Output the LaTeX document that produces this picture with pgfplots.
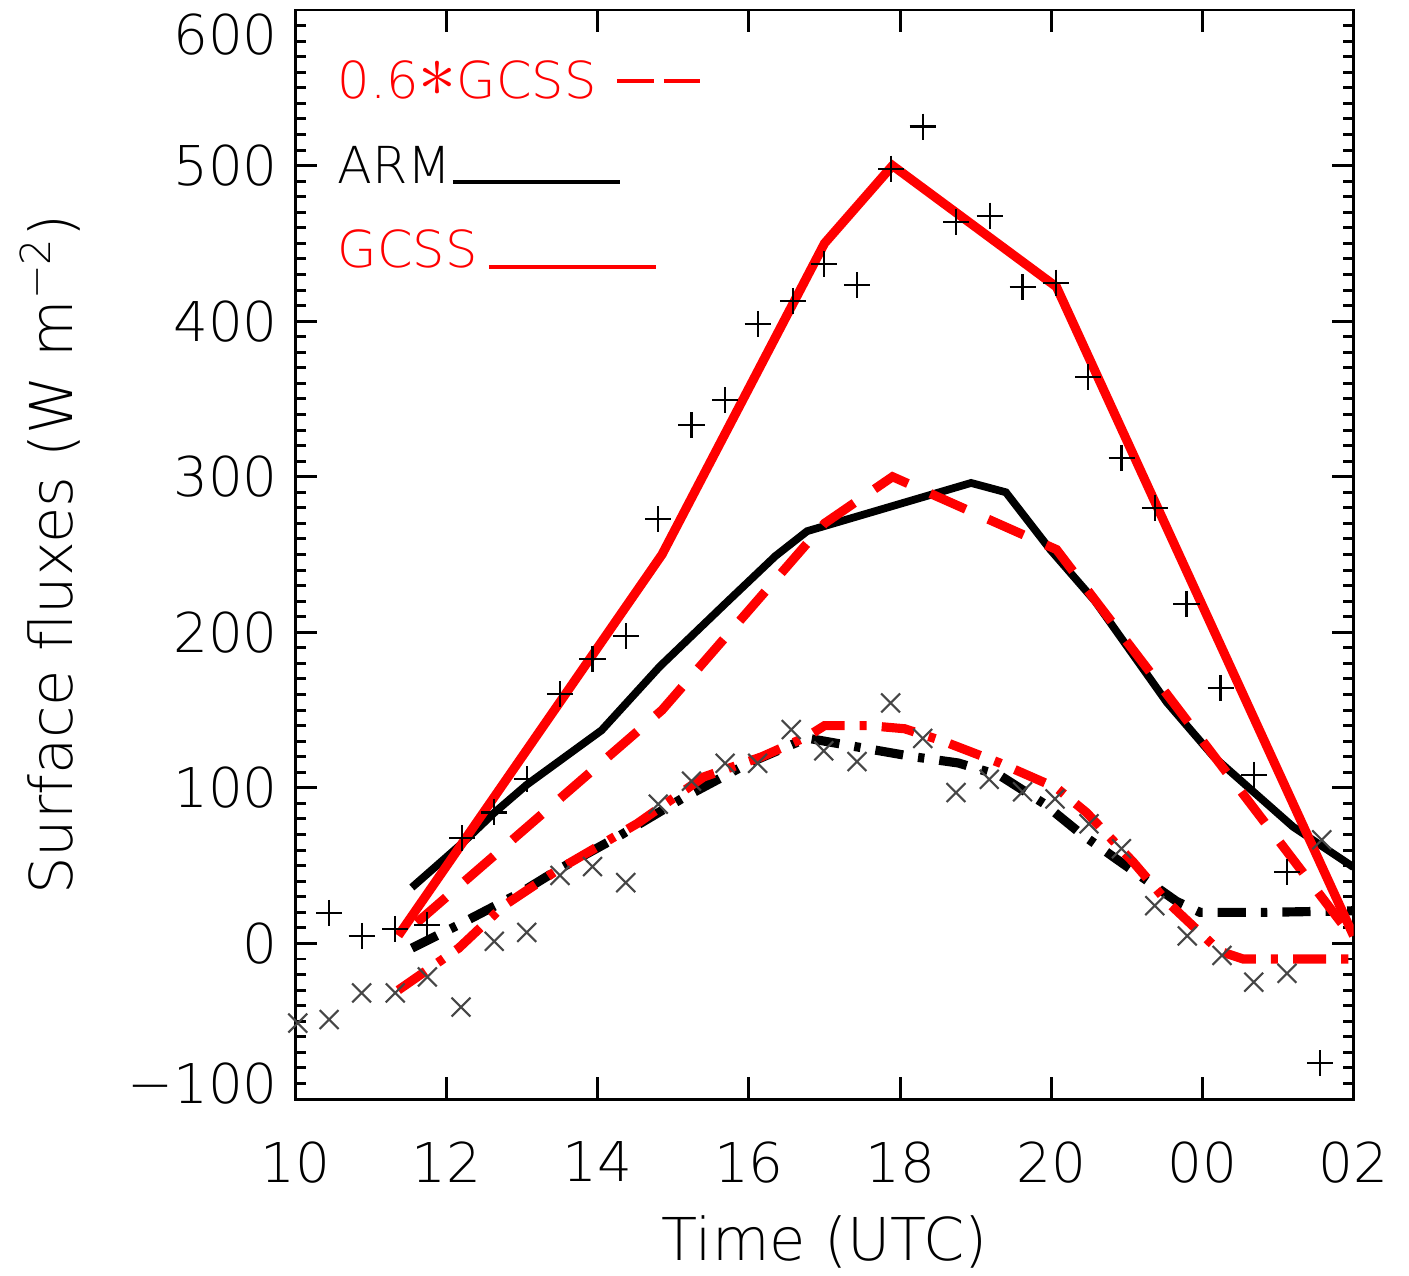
\documentclass[border=0pt]{standalone}
\usepackage{pgfplots}
\pgfplotsset{compat=1.18}
\usepackage{graphicx}
\usepackage{fontspec}
\setmainfont{DejaVu Sans}[UprightFont=* ExtraLight]
\definecolor{xgray}{RGB}{70,70,70}
\begin{document}
\begin{tikzpicture}
\begin{axis}[
  name=ax,
  scale only axis, width=10.58cm, height=10.89cm,
  xmin=10, xmax=24, ymin=-100, ymax=600,
  xtick={10,12,...,24}, xticklabels={10,12,14,16,18,20,00,02},
  ytick={-100,0,...,600},
  yticklabels={\raisebox{4.5pt}[\height][\depth]{−100},0,100,200,300,400,500,\raisebox{-7pt}[\height][\depth]{600}},
  minor y tick num=9,
  tick align=inside, major tick length=6.2pt, minor tick length=3.1pt,
  axis line style={line width=0.85pt},
  every tick/.style={black, line width=0.85pt},
  tick label style={font=\fontsize{15.6}{18}\selectfont},
  xticklabel shift=8.5pt, yticklabel shift=1.5pt,
  xlabel={Time (UTC)}, ylabel={Surface fluxes (W m\textsuperscript{−2})},
  label style={font=\fontsize{16.8}{20}\selectfont},
  xlabel style={at={(axis description cs:0.5,-0.148)}, anchor=base},
  ylabel style={at={(axis description cs:-0.211,0.5)}, anchor=base},
  clip=true,
]
% ARM lines
\addplot[black, line width=2.2pt] coordinates {(11.54,36) (12.22,65) (12.63,84) (13.06,102) (14.05,137) (14.82,178) (15.7,219) (16.35,249) (16.77,265) (18.94,296) (19.4,290) (19.99,253) (20.58,220) (21.53,155) (22.15,120) (23.2,75) (24,49)};
\addplot[black, line width=2.6pt, dash pattern=on 8pt off 4.3pt on 1.8pt off 4.3pt] coordinates {(11.54,-3) (12.16,12) (12.99,33) (13.46,47) (14.28,69) (15.11,93) (16.0,116) (16.77,132) (17.47,126) (18.18,120) (18.77,116) (19.32,108) (19.9,90) (20.38,71) (20.87,54) (21.66,27) (21.97,20) (22.85,20) (24,21)};
% GCSS lines
\addplot[red, line width=2.6pt] coordinates {(11.36,5) (14.85,250) (17.0,450) (17.9,500) (20.07,422) (24,5)};
\addplot[red, line width=2.6pt, dash pattern=on 11pt off 7pt, dash phase=11pt] coordinates {(11.36,3) (14.85,150) (17.0,270) (17.9,300) (20.07,253.2) (24,3)};
\addplot[red, line width=2.6pt, dash pattern=on 9.4pt off 4.3pt on 2pt off 4.3pt] coordinates {(11.36,-30) (12.16,-3) (12.75,24) (13.46,47) (14.52,77) (15.4,107) (16.17,120) (16.77,133) (17.0,140) (17.59,140) (18.06,138) (18.57,130) (19.32,116) (20.07,100) (20.47,84) (21.09,52) (21.53,27) (22.23,-5) (22.54,-10) (24,-10)};
% observations
\addplot[only marks, mark=+, mark size=3.7pt, mark options={black, line width=0.6pt}] coordinates {(10.445,19.7) (10.875,4.8) (11.32,9.4) (11.745,11.7) (12.205,67.7) (12.63,84.2) (13.06,105.5) (13.5,160.4) (13.93,182.6) (14.37,197.4) (14.80,272.8) (15.24,333.1) (15.685,349.1) (16.115,398.3) (16.58,413.1) (16.99,436.5) (17.43,423) (17.88,498) (18.30,525.1) (18.745,464) (19.185,467.8) (19.62,421.7) (20.06,424.7) (20.49,363.9) (20.93,312.1) (21.37,280.1) (21.79,218.2) (22.24,164.3) (22.68,108.4) (23.12,46) (23.56,-77)};
\addplot[only marks, mark=x, mark size=3.8pt, mark options={xgray, line width=0.6pt}] coordinates {(10.03,-51.2) (10.445,-48.9) (10.875,-31.8) (11.32,-31.8) (11.745,-21.5) (12.19,-40.9) (12.63,1.4) (13.06,7.1) (13.5,43.7) (13.93,49.4) (14.37,39.1) (14.80,89.5) (15.24,104.3) (15.685,115.8) (16.115,115.8) (16.56,137.5) (16.99,123.8) (17.43,116.9) (17.875,154.6) (18.30,131.8) (18.74,97) (19.18,105.5) (19.62,97.5) (20.05,92.9) (20.5,76.9) (20.93,60.9) (21.37,24.3) (21.8,4.8) (22.26,-7.7) (22.68,-24.9) (23.12,-19.2) (23.58,66.6)};
% legend (text labels as in the original)
\node[anchor=base west, inner sep=0pt, text=red, font=\fontsize{14.5}{17}\selectfont] at (axis cs:10.549,543.4) {0.6\raisebox{0.5pt}{\scalebox{1.5}{$\ast$}}GCSS};
\draw[red, line width=1.1pt, dash pattern=on 10.5pt off 2.85pt] (axis cs:14.254,554.4) -- (axis cs:15.353,554.4);
\node[anchor=base west, inner sep=0pt, text=black, font=\fontsize{14.5}{17}\selectfont] at (axis cs:10.549,488.8) {ARM};
\draw[black, line width=1pt] (axis cs:12.084,489.5) -- (axis cs:14.294,489.5);
\node[anchor=base west, inner sep=0pt, text=red, font=\fontsize{14.5}{17}\selectfont] at (axis cs:10.549,434.2) {GCSS};
\draw[red, line width=1pt] (axis cs:12.56,434.9) -- (axis cs:14.77,434.9);
\end{axis}
\pgfresetboundingbox
\useasboundingbox ([shift={(-2.955cm,-1.76cm)}]ax.south west) rectangle ([shift={(0.555cm,0.10cm)}]ax.north east);
\end{tikzpicture}
\end{document}
